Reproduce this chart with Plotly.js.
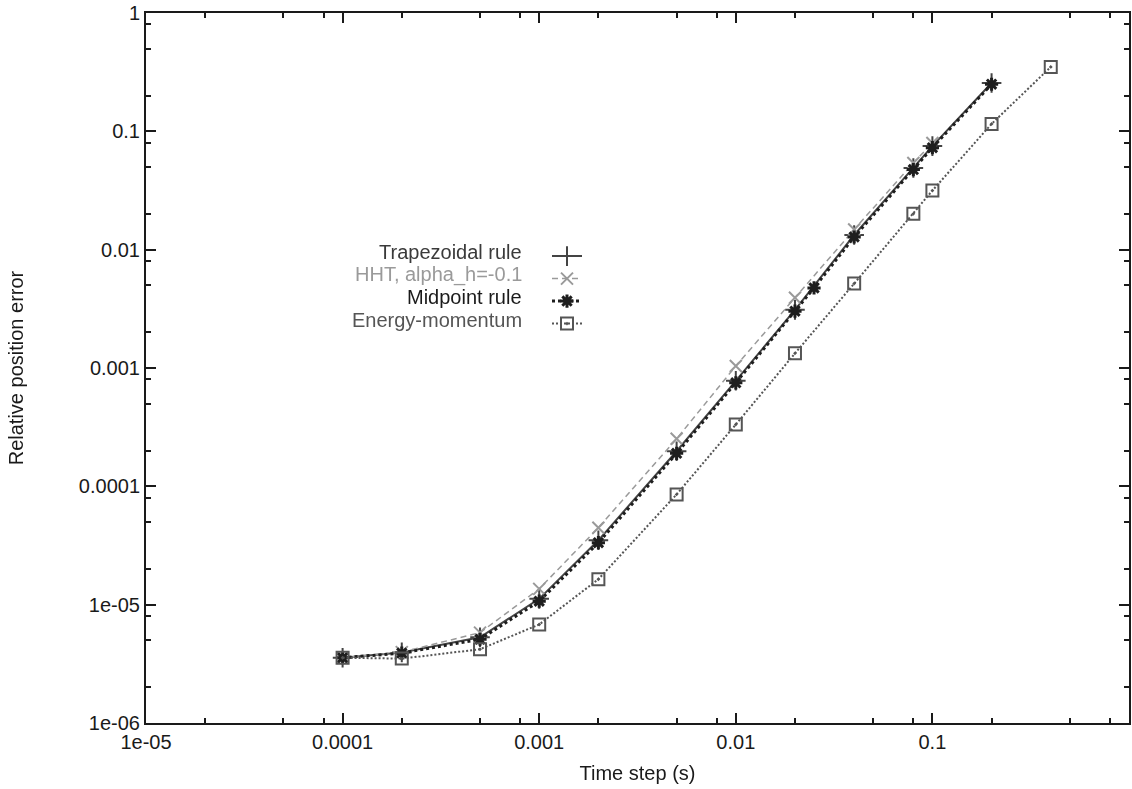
<!DOCTYPE html>
<html>
<head>
<meta charset="utf-8">
<script src="https://cdn.plot.ly/plotly-3.0.1.min.js"></script>
<style>
  html, body { margin: 0; padding: 0; background: #ffffff; }
  #chart { width: 1132px; height: 789px; }
</style>
</head>
<body>
<div id="chart"></div>
<script>
// ---- data (time step in s, relative position error) ----
var trapStep = [1e-4, 2e-4, 5e-4, 1e-3, 2e-3, 5e-3, 0.01, 0.02, 0.04, 0.08, 0.1, 0.2];
var trapErr  = [3.56e-6, 3.95e-6, 5.3e-6, 1.12e-5, 3.5e-5, 1.98e-4, 7.8e-4, 3.1e-3, 0.0133, 0.049, 0.075, 0.256];

var hhtStep = [1e-4, 2e-4, 5e-4, 1e-3, 2e-3, 5e-3, 0.01, 0.02, 0.04, 0.08, 0.1];
var hhtErr  = [3.56e-6, 3.97e-6, 5.8e-6, 1.36e-5, 4.47e-5, 2.52e-4, 1.04e-3, 3.92e-3, 0.0148, 0.054, 0.0798];

var midStep = [1e-4, 2e-4, 5e-4, 1e-3, 2e-3, 5e-3, 0.01, 0.02, 0.025, 0.04, 0.08, 0.1, 0.2];
var midErr  = [3.56e-6, 3.9e-6, 5.1e-6, 1.07e-5, 3.34e-5, 1.90e-4, 7.5e-4, 3.02e-3, 4.75e-3, 0.0128, 0.0475, 0.0728, 0.25];

var emStep = [1e-4, 2e-4, 5e-4, 1e-3, 2e-3, 5e-3, 0.01, 0.02, 0.04, 0.08, 0.1, 0.2, 0.4];
var emErr  = [3.56e-6, 3.5e-6, 4.2e-6, 6.8e-6, 1.64e-5, 8.55e-5, 3.33e-4, 1.33e-3, 5.17e-3, 0.0201, 0.0316, 0.1155, 0.35];

var seriesNames = ["Trapezoidal rule", "HHT, alpha_h=-0.1", "Midpoint rule", "Energy-momentum"];
var seriesTextColors = ["#3a3a3a", "#9a9a9a", "#1a1a1a", "#555555"];

// ---- tick labels ----
var xTickVals = [1e-5, 1e-4, 1e-3, 1e-2, 1e-1, 1];
var xTickText = ["1e-05", "0.0001", "0.001", "0.01", "0.1", "1"];
var yTickVals = [1e-6, 1e-5, 1e-4, 1e-3, 1e-2, 1e-1, 1];
var yTickText = ["1e-06", "1e-05", "0.0001", "0.001", "0.01", "0.1", "1"];
var minorMults = [2, 5, 8];

function minorTicks(decades) {
  var out = [];
  decades.forEach(function (d) { minorMults.forEach(function (m) { out.push(d * m); }); });
  return out;
}
var xMinor = minorTicks([1e-5, 1e-4, 1e-3, 1e-2, 1e-1]);
var yMinor = minorTicks([1e-6, 1e-5, 1e-4, 1e-3, 1e-2, 1e-1]);

var FONT = "Liberation Sans, Arial, Helvetica, sans-serif";
var AXC = "#1a1a1a";

var traces = [
  {
    x: trapStep, y: trapErr, type: "scatter", mode: "lines+markers", name: " ",
    line: { color: "#444444", width: 2, dash: "solid" },
    marker: { symbol: "cross-thin-open", size: 14, color: "#444444", line: { color: "#444444", width: 2 } }
  },
  {
    x: hhtStep, y: hhtErr, type: "scatter", mode: "lines+markers", name: " ",
    line: { color: "#9a9a9a", width: 1.5, dash: "6px,4px" },
    marker: { symbol: "x-thin-open", size: 12, color: "#9a9a9a", line: { color: "#9a9a9a", width: 2 } }
  },
  {
    x: midStep, y: midErr, type: "scatter", mode: "lines+markers", name: " ",
    line: { color: "#1e1e1e", width: 3, dash: "3px,3px" },
    marker: { symbol: "asterisk-open", size: 11, color: "#1e1e1e", line: { color: "#1e1e1e", width: 3 } }
  },
  {
    x: emStep, y: emErr, type: "scatter", mode: "lines+markers", name: " ",
    line: { color: "#555555", width: 2, dash: "2px,2px" },
    marker: { symbol: "square-open-dot", size: 12, color: "#555555", line: { color: "#555555", width: 2 } }
  },
  // invisible carrier so the overlay axes (minor ticks) get drawn
  {
    x: trapStep, y: trapErr, xaxis: "x2", yaxis: "y2", type: "scatter", mode: "markers",
    opacity: 0, showlegend: false, hoverinfo: "skip", marker: { size: 1 }
  }
];

// legend text drawn gnuplot-style (right-aligned, sample to the right)
var plotL = 146, plotR = 1129, plotT = 13, plotB = 723.5;
function px2paperX(p) { return (p - plotL) / (plotR - plotL); }
function px2paperY(p) { return (plotB - p) / (plotB - plotT); }
var legendRowY = [252, 275, 297.5, 320];
var annotations = seriesNames.map(function (n, i) {
  return {
    xref: "paper", yref: "paper", x: px2paperX(524), y: px2paperY(legendRowY[i]),
    xanchor: "right", yanchor: "middle", showarrow: false, text: n,
    font: { family: FONT, size: 20, color: seriesTextColors[i] }
  };
});

var axisCommon = {
  type: "log",
  showgrid: false, zeroline: false,
  showline: true, linecolor: AXC, linewidth: 2,
  mirror: "allticks",
  ticks: "inside", ticklen: 10, tickwidth: 2, tickcolor: AXC,
  tickmode: "array",
  tickfont: { family: FONT, size: 20, color: AXC }
};
var minorAxis = {
  type: "log",
  showgrid: false, zeroline: false,
  showline: true, linecolor: AXC, linewidth: 2,
  mirror: "allticks",
  ticks: "inside", ticklen: 5, tickwidth: 2, tickcolor: AXC,
  tickmode: "array", showticklabels: false
};

var layout = {
  width: 1132, height: 789,
  paper_bgcolor: "#ffffff", plot_bgcolor: "#ffffff",
  margin: { l: plotL, r: 1132 - plotR, t: plotT, b: 789 - plotB, pad: 0 },
  font: { family: FONT, size: 20, color: AXC },
  showlegend: true,
  legend: {
    x: px2paperX(547), y: px2paperY(240), xanchor: "left", yanchor: "top",
    bgcolor: "rgba(0,0,0,0)", borderwidth: 0,
    font: { family: FONT, size: 15, color: AXC }
  },
  xaxis: Object.assign({}, axisCommon, {
    range: [-5, 0],
    tickvals: xTickVals, ticktext: xTickText,
    title: { text: "Time step (s)", font: { family: FONT, size: 20, color: AXC }, standoff: 14 }
  }),
  yaxis: Object.assign({}, axisCommon, {
    range: [-6, 0],
    tickvals: yTickVals, ticktext: yTickText,
    title: { text: "Relative position error", font: { family: FONT, size: 20, color: AXC }, standoff: 50 }
  }),
  xaxis2: Object.assign({}, minorAxis, {
    overlaying: "x", side: "bottom", anchor: "y2", range: [-5, 0], tickvals: xMinor
  }),
  yaxis2: Object.assign({}, minorAxis, {
    overlaying: "y", side: "left", anchor: "x2", range: [-6, 0], tickvals: yMinor
  }),
  annotations: annotations
};

Plotly.newPlot("chart", traces, layout, { displayModeBar: false, staticPlot: true });
</script>
</body>
</html>
